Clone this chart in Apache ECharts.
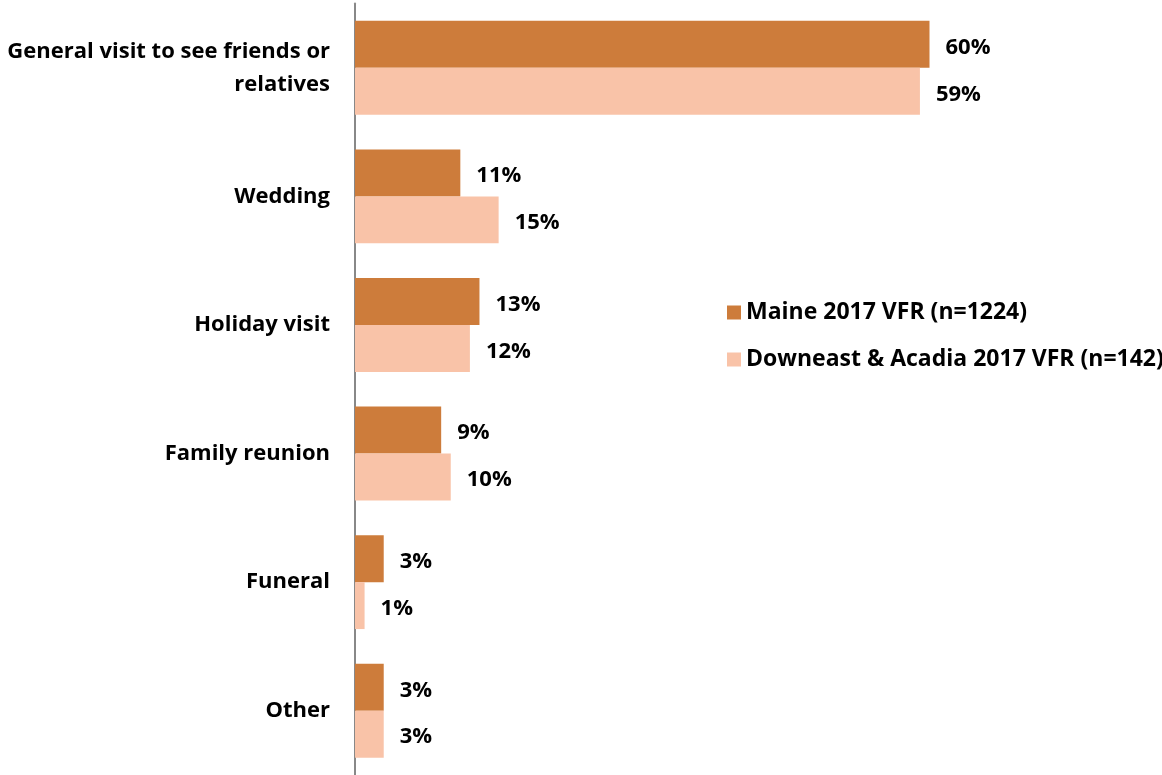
<!DOCTYPE html>
<html>
<head>
<meta charset="utf-8">
<script src="https://cdn.jsdelivr.net/npm/echarts@6/dist/echarts.min.js"></script>
<style>
  html, body { margin: 0; padding: 0; background: #ffffff; }
  #chart { width: 1162px; height: 775px; }
</style>
</head>
<body>
<div id="chart"></div>
<script>
// Reasons for visiting friends and relatives (VFR), share of respondents
const categories = [
  'General visit to see friends or\nrelatives',
  'Wedding',
  'Holiday visit',
  'Family reunion',
  'Funeral',
  'Other'
];
const seriesNames = ['Maine 2017 VFR (n=1224)', 'Downeast & Acadia 2017 VFR (n=142)'];
const maineValues = [60, 11, 13, 9, 3, 3];
const downeastValues = [59, 15, 12, 10, 1, 3];

const FONT = '"Open Sans", Lato, sans-serif';

const chart = echarts.init(document.getElementById('chart'), null, { renderer: 'canvas' });

const labelStyle = {
  show: true,
  position: 'right',
  distance: 16,
  offset: [0, 3],
  formatter: '{c}%',
  color: '#000000',
  fontFamily: FONT,
  fontWeight: 'bold',
  fontSize: 22
};

chart.setOption({
  animation: false,
  backgroundColor: '#ffffff',
  grid: { left: 355, top: 3.5, height: 774, width: 766 },
  legend: {
    orient: 'vertical',
    left: 722,
    top: 292,
    itemWidth: 14,
    itemHeight: 14,
    itemGap: 16,
    icon: 'rect',
    textStyle: { fontFamily: FONT, fontWeight: 'bold', fontSize: 23, color: '#000000', lineHeight: 31 },
    data: seriesNames
  },
  xAxis: {
    type: 'value',
    min: 0,
    max: 80,
    show: false
  },
  yAxis: {
    type: 'category',
    inverse: true,
    data: categories,
    axisLine: { show: true, lineStyle: { color: '#888888', width: 2 } },
    axisTick: { show: false },
    splitLine: { show: false },
    axisLabel: {
      margin: 25,
      color: '#000000',
      fontFamily: FONT,
      fontWeight: 'bold',
      fontSize: 22,
      align: 'right',
      lineHeight: 33
    }
  },
  series: [
    {
      name: seriesNames[0],
      type: 'bar',
      data: maineValues,
      barGap: '0%',
      barCategoryGap: '27%',
      itemStyle: { color: '#CD7C3B' },
      label: labelStyle
    },
    {
      name: seriesNames[1],
      type: 'bar',
      data: downeastValues,
      itemStyle: { color: '#F9C3A8' },
      label: labelStyle
    }
  ]
});
</script>
</body>
</html>
